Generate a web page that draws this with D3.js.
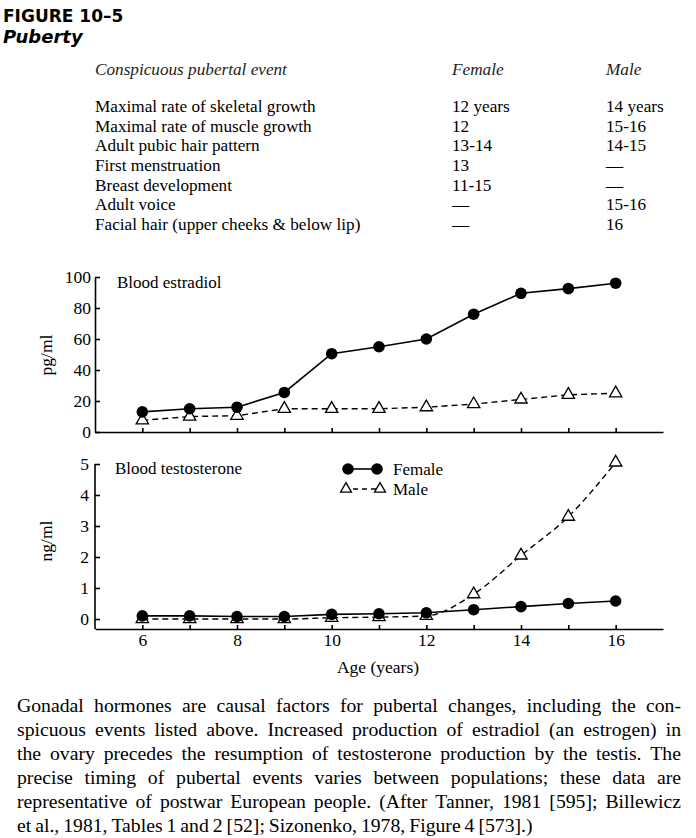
<!DOCTYPE html>
<html><head><meta charset="utf-8">
<script src="https://cdn.jsdelivr.net/npm/d3@7"></script>
<style>body{margin:0;background:#fff}svg{display:block}</style>
</head><body><svg id="c" width="696" height="838"></svg>
<script>
// ---------- data ----------
const ages = [6, 7, 8, 9, 10, 11, 12, 13, 14, 15, 16];
const estradiolFemale = [13, 15, 16, 25.5, 50.5, 55, 60, 76, 89.5, 92.5, 96];
const estradiolMale = [7.5, 10, 10.5, 15, 15, 15, 16, 18, 21, 24, 25];
const testosteroneFemale = [0.1, 0.1, 0.08, 0.08, 0.15, 0.17, 0.2, 0.3, 0.4, 0.5, 0.58];
const testosteroneMale = [0, 0, 0, 0, 0.04, 0.06, 0.1, 0.8, 2.05, 3.3, 5.05];
const xTickLabels = [6, 8, 10, 12, 14, 16];
const estradiolTicks = [0, 20, 40, 60, 80, 100];
const testosteroneTicks = [0, 1, 2, 3, 4, 5];

const tableHeader = ["Conspicuous pubertal event", "Female", "Male"];
const tableEvents = ["Maximal rate of skeletal growth", "Maximal rate of muscle growth", "Adult pubic hair pattern",
  "First menstruation", "Breast development", "Adult voice", "Facial hair (upper cheeks & below lip)"];
const tableFemale = ["12 years", "12", "13-14", "13", "11-15", "\u2014", "\u2014"];
const tableMale = ["14 years", "15-16", "14-15", "\u2014", "\u2014", "15-16", "16"];

const captionLines = [
  "Gonadal hormones are causal factors for pubertal changes, including the con-",
  "spicuous events listed above. Increased production of estradiol (an estrogen) in",
  "the ovary precedes the resumption of testosterone production by the testis. The",
  "precise timing of pubertal events varies between populations; these data are",
  "representative of postwar European people. (After Tanner, 1981 [595]; Billewicz",
  "et al., 1981, Tables 1 and 2 [52]; Sizonenko, 1978, Figure 4 [573].)"
];

// ---------- drawing ----------
const svg = d3.select("#c");
const serif = "'Liberation Serif', 'Times New Roman', serif";
const axisFont = "17.5px";

// Title
svg.append("text").attr("x", 3).attr("y", 22).text("FIGURE 10\u20135")
  .style("font-family", "'DejaVu Sans', sans-serif").style("font-weight", "bold").style("font-size", "17px");
svg.append("text").attr("x", 3).attr("y", 43).text("Puberty")
  .style("font-family", "'DejaVu Sans', sans-serif").style("font-weight", "bold").style("font-style", "italic").style("font-size", "18px");

// Table
const tCols = [95, 452, 606];
const tbl = svg.append("g").style("font-family", serif).style("font-size", "17.2px");
tableHeader.forEach((h, i) => tbl.append("text").attr("x", tCols[i]).attr("y", 75).style("font-style", "italic").attr("fill", "#222").text(h));
const rowY = d3.scaleLinear().domain([0, 6]).range([112, 230]);
tableEvents.forEach((e, i) => {
  tbl.append("text").attr("x", tCols[0]).attr("y", rowY(i)).text(e);
  tbl.append("text").attr("x", tCols[1]).attr("y", rowY(i)).text(tableFemale[i]);
  tbl.append("text").attr("x", tCols[2]).attr("y", rowY(i)).text(tableMale[i]);
});

// Scales
const x = d3.scaleLinear().domain([5, 17]).range([95, 663]);
const yTop = d3.scaleLinear().domain([0, 100]).range([432, 277]);
const yBot = d3.scaleLinear().domain([0, 5]).range([619, 464]);
const xAxisYBot = 629;

function styleAxis(g) {
  g.selectAll("path,line").attr("stroke", "#000").attr("stroke-width", 1.6);
  g.selectAll("text").style("font-family", serif).style("font-size", axisFont).attr("fill", "#000");
}

// Top chart axes
const gTopY = svg.append("g").attr("transform", `translate(${x(5)},0)`)
  .call(d3.axisLeft(yTop).tickValues(estradiolTicks).tickSizeInner(-5).tickSizeOuter(0).tickPadding(4).tickFormat(d3.format("d")));
styleAxis(gTopY);
const gTopX = svg.append("g").attr("transform", `translate(0,${yTop(0)})`)
  .call(d3.axisBottom(x).tickValues(ages).tickSizeInner(-4).tickSizeOuter(0).tickFormat(""));
styleAxis(gTopX);

// Bottom chart axes
const gBotY = svg.append("g").attr("transform", `translate(${x(5)},0)`)
  .call(d3.axisLeft(yBot).tickValues(testosteroneTicks).tickSizeInner(-5).tickSizeOuter(0).tickPadding(6).tickFormat(d3.format("d")));
gBotY.select(".domain").remove();
gBotY.append("line").attr("x1", 0).attr("x2", 0).attr("y1", yBot(5)).attr("y2", xAxisYBot);
styleAxis(gBotY);
const gBotX = svg.append("g").attr("transform", `translate(0,${xAxisYBot})`)
  .call(d3.axisBottom(x).tickValues(ages).tickSizeInner(-4).tickSizeOuter(0).tickPadding(5)
    .tickFormat(d => xTickLabels.includes(d) ? d : ""));
styleAxis(gBotX);

// Axis titles
svg.append("text").attr("transform", "translate(52,355) rotate(-90)").attr("text-anchor", "middle")
  .style("font-family", serif).style("font-size", axisFont).text("pg/ml");
svg.append("text").attr("transform", "translate(52,541) rotate(-90)").attr("text-anchor", "middle")
  .style("font-family", serif).style("font-size", axisFont).text("ng/ml");
svg.append("text").attr("x", 378).attr("y", 673).attr("text-anchor", "middle")
  .style("font-family", serif).style("font-size", axisFont).text("Age (years)");

// Panel titles
svg.append("text").attr("x", 117).attr("y", 288).style("font-family", serif).style("font-size", "17px").text("Blood estradiol");
svg.append("text").attr("x", 115).attr("y", 474).style("font-family", serif).style("font-size", "17px").text("Blood testosterone");

const tri = d3.symbol(d3.symbolTriangle, 66);

function drawSeries(yScale, vals, kind, curve) {
  const pts = ages.map((a, i) => [a, vals[i]]);
  const line = d3.line().x(d => x(d[0])).y(d => yScale(d[1])).curve(curve || d3.curveLinear);
  const g = svg.append("g");
  g.append("path").attr("d", line(pts)).attr("fill", "none").attr("stroke", "#000")
    .attr("stroke-width", kind === "f" ? 1.6 : 1.4)
    .attr("stroke-dasharray", kind === "f" ? null : "6,4");
  if (kind === "f") {
    g.selectAll("circle").data(pts).join("circle")
      .attr("cx", d => x(d[0])).attr("cy", d => yScale(d[1])).attr("r", 5.8).attr("fill", "#000");
  } else {
    g.selectAll("path.m").data(pts).join("path").attr("class", "m")
      .attr("d", tri).attr("transform", d => `translate(${x(d[0])},${yScale(d[1])})`)
      .attr("fill", "#fff").attr("stroke", "#000").attr("stroke-width", 1.3);
  }
}

drawSeries(yTop, estradiolMale, "m");
drawSeries(yTop, estradiolFemale, "f");
drawSeries(yBot, testosteroneMale, "m", d3.curveMonotoneX);
drawSeries(yBot, testosteroneFemale, "f");

// Legend
const lg = svg.append("g");
lg.append("line").attr("x1", 348).attr("x2", 377).attr("y1", 469).attr("y2", 469).attr("stroke", "#000").attr("stroke-width", 1.6);
[348, 377].forEach(cx => lg.append("circle").attr("cx", cx).attr("cy", 469).attr("r", 5.8).attr("fill", "#000"));
lg.append("line").attr("x1", 346).attr("x2", 380).attr("y1", 489).attr("y2", 489).attr("stroke", "#000").attr("stroke-width", 1.4).attr("stroke-dasharray", "5,4").attr("stroke-dashoffset", -7);
[346, 380].forEach(cx => lg.append("path").attr("d", d3.symbol(d3.symbolTriangle, 52)).attr("transform", `translate(${cx},489)`).attr("fill", "#fff").attr("stroke", "#000").attr("stroke-width", 1.3));
lg.append("text").attr("x", 393).attr("y", 475).style("font-family", serif).style("font-size", "17px").text("Female");
lg.append("text").attr("x", 393).attr("y", 495).style("font-family", serif).style("font-size", "17px").text("Male");

// Caption (justified, slightly widened glyphs like the original typesetting)
const capLeft = 17, capRight = 681, capSize = 18.6, capStretch = 1.06;
const capG = svg.append("g").attr("transform", `translate(${capLeft},0) scale(${capStretch},1)`)
  .style("font-family", serif).style("font-size", capSize + "px");
const capW = (capRight - capLeft) / capStretch;
captionLines.forEach((ln, li) => {
  const yb = 712 + li * 24;
  const words = ln.split(" ");
  const last = li === captionLines.length - 1;
  const tmp = words.map(w => capG.append("text").attr("y", yb).text(w));
  const widths = tmp.map(t => t.node().getComputedTextLength());
  const total = d3.sum(widths);
  const gap = last ? capSize * 0.2 : (capW - total) / (words.length - 1);
  let cx = 0;
  tmp.forEach((t, i) => { t.attr("x", cx); cx += widths[i] + gap; });
});
</script>
</body></html>
